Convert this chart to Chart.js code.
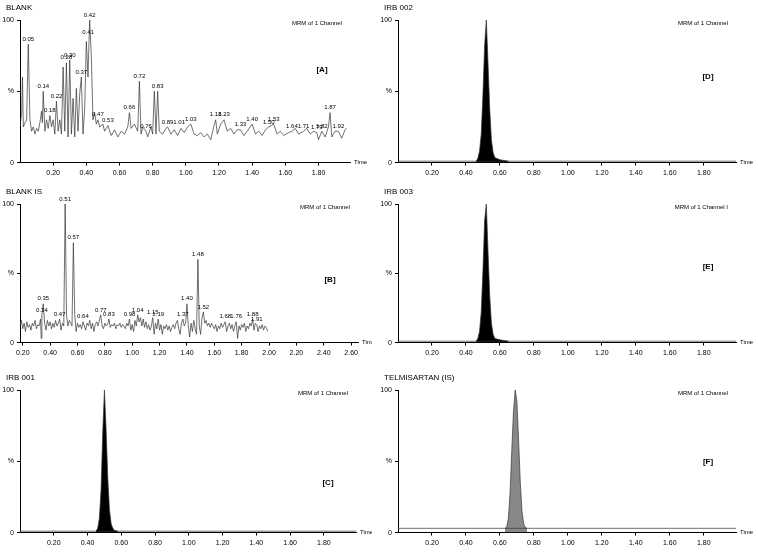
<!DOCTYPE html>
<html><head><meta charset="utf-8">
<script src="https://cdn.jsdelivr.net/npm/chart.js@4"></script>
<style>
body{margin:0;background:#fff;width:758px;height:552px;position:relative;overflow:hidden}
.p{position:absolute}
</style></head><body>
<div class="p" style="left:0;top:0;width:372px;height:180px"><canvas id="cA"></canvas></div>
<div class="p" style="left:0;top:184px;width:372px;height:176px"><canvas id="cB"></canvas></div>
<div class="p" style="left:0;top:370px;width:372px;height:180px"><canvas id="cC"></canvas></div>
<div class="p" style="left:378px;top:0;width:380px;height:180px"><canvas id="cD"></canvas></div>
<div class="p" style="left:378px;top:184px;width:380px;height:176px"><canvas id="cE"></canvas></div>
<div class="p" style="left:378px;top:370px;width:380px;height:180px"><canvas id="cF"></canvas></div>
<script>
// panel A: BLANK trace [time, %]
const blankTrace = [[0.00,25],[0.01,35],[0.015,60],[0.02,25],[0.03,28],[0.04,30],[0.05,83],[0.06,30],[0.07,22],[0.08,25],[0.09,20],[0.10,24],[0.11,22],[0.12,28],[0.13,36],[0.135,28],[0.14,50],[0.15,22],[0.16,30],[0.17,24],[0.18,33],[0.19,25],[0.20,30],[0.21,20],[0.22,43],[0.23,22],[0.24,30],[0.25,20],[0.26,67],[0.27,22],[0.28,70],[0.29,18],[0.30,72],[0.31,20],[0.32,45],[0.33,18],[0.34,52],[0.35,22],[0.36,48],[0.37,60],[0.38,20],[0.39,38],[0.40,85],[0.41,60],[0.42,100],[0.43,75],[0.44,30],[0.45,35],[0.46,27],[0.47,30],[0.48,25],[0.50,27],[0.51,22],[0.53,26],[0.55,19],[0.57,23],[0.59,18],[0.61,22],[0.63,20],[0.65,25],[0.66,35],[0.67,24],[0.69,27],[0.71,22],[0.72,57],[0.73,20],[0.74,25],[0.76,22],[0.77,18],[0.79,25],[0.80,20],[0.81,50],[0.82,20],[0.83,50],[0.84,22],[0.86,20],[0.88,24],[0.89,25],[0.91,20],[0.93,23],[0.95,19],[0.97,24],[0.99,21],[1.01,25],[1.03,27],[1.05,20],[1.07,19],[1.09,21],[1.11,18],[1.13,20],[1.15,16],[1.17,26],[1.18,30],[1.19,20],[1.21,27],[1.23,30],[1.25,22],[1.27,24],[1.29,20],[1.31,23],[1.33,23],[1.35,19],[1.37,22],[1.40,27],[1.42,20],[1.44,22],[1.46,19],[1.48,23],[1.50,25],[1.53,27],[1.55,20],[1.57,22],[1.59,19],[1.62,21],[1.64,22],[1.66,24],[1.68,20],[1.71,22],[1.73,24],[1.75,20],[1.77,22],[1.79,21],[1.80,16],[1.82,22],[1.84,18],[1.86,25],[1.87,35],[1.88,18],[1.90,22],[1.92,22],[1.94,17],[1.96,23],[1.97,24]];
const blankLabels = [[0.05,83,'0.05'],[0.14,50,'0.14'],[0.18,33,'0.18'],[0.22,43,'0.22'],[0.28,70,'0.28'],[0.30,72,'0.30'],[0.37,60,'0.37'],[0.41,88,'0.41'],[0.42,100,'0.42'],[0.47,30,'0.47'],[0.53,26,'0.53'],[0.66,35,'0.66'],[0.72,57,'0.72'],[0.76,22,'0.76'],[0.83,50,'0.83'],[0.89,25,'0.89'],[0.96,25,'1.01'],[1.03,27,'1.03'],[1.18,30,'1.18'],[1.23,30,'1.23'],[1.33,23,'1.33'],[1.40,27,'1.40'],[1.50,25,'1.50'],[1.53,27,'1.53'],[1.64,22,'1.64'],[1.71,22,'1.71'],[1.79,21,'1.79'],[1.82,22,'1.82'],[1.87,35,'1.87'],[1.92,22,'1.92']];

// panel B: BLANK IS trace
const blankIsTrace = [[0.18,12],[0.19,16],[0.20,10],[0.21,14],[0.22,8],[0.23,15],[0.24,11],[0.25,13],[0.26,9],[0.27,14],[0.28,12],[0.29,16],[0.30,10],[0.31,13],[0.32,12],[0.33,17],[0.335,3],[0.34,20],[0.35,28],[0.36,14],[0.37,9],[0.38,16],[0.39,12],[0.40,15],[0.41,10],[0.42,14],[0.43,11],[0.44,16],[0.45,12],[0.46,14],[0.47,17],[0.48,9],[0.49,14],[0.50,12],[0.51,100],[0.52,20],[0.53,12],[0.54,16],[0.55,14],[0.56,12],[0.57,72],[0.58,20],[0.59,8],[0.60,14],[0.61,11],[0.62,13],[0.63,10],[0.64,15],[0.65,12],[0.66,9],[0.67,14],[0.68,12],[0.69,16],[0.70,10],[0.71,14],[0.72,8],[0.73,13],[0.74,15],[0.75,12],[0.76,16],[0.77,20],[0.78,12],[0.79,10],[0.80,14],[0.81,12],[0.82,13],[0.83,17],[0.84,11],[0.85,13],[0.86,12],[0.87,14],[0.88,10],[0.89,13],[0.90,12],[0.91,14],[0.92,11],[0.93,13],[0.94,12],[0.95,10],[0.96,14],[0.97,12],[0.98,17],[0.99,9],[1.00,13],[1.01,8],[1.02,16],[1.03,12],[1.04,20],[1.05,15],[1.06,18],[1.07,12],[1.08,17],[1.09,11],[1.10,15],[1.11,10],[1.12,13],[1.13,9],[1.14,12],[1.15,18],[1.16,6],[1.17,14],[1.18,10],[1.19,17],[1.20,9],[1.21,13],[1.22,6],[1.23,12],[1.24,10],[1.25,13],[1.26,9],[1.27,12],[1.28,8],[1.29,11],[1.30,13],[1.31,10],[1.32,14],[1.33,16],[1.34,10],[1.35,6],[1.36,14],[1.37,17],[1.38,12],[1.39,14],[1.40,28],[1.41,12],[1.42,4],[1.43,14],[1.44,8],[1.45,16],[1.46,10],[1.47,6],[1.48,60],[1.49,12],[1.50,6],[1.51,18],[1.52,22],[1.53,14],[1.54,16],[1.55,12],[1.56,14],[1.57,11],[1.58,14],[1.59,12],[1.60,10],[1.61,13],[1.62,8],[1.63,12],[1.64,10],[1.65,14],[1.66,11],[1.67,13],[1.68,15],[1.69,8],[1.70,12],[1.71,14],[1.72,10],[1.73,13],[1.74,8],[1.75,12],[1.76,15],[1.77,3],[1.78,12],[1.79,9],[1.80,13],[1.81,11],[1.82,14],[1.83,8],[1.84,12],[1.85,10],[1.86,14],[1.87,12],[1.88,17],[1.89,9],[1.90,14],[1.91,13],[1.92,8],[1.93,12],[1.94,10],[1.95,13],[1.96,9],[1.97,12],[1.98,11],[1.99,8]];
const blankIsLabels = [[0.34,20,'0.34'],[0.35,28,'0.35'],[0.47,17,'0.47'],[0.51,100,'0.51'],[0.57,72,'0.57'],[0.64,15,'0.64'],[0.77,20,'0.77'],[0.83,17,'0.83'],[0.98,17,'0.98'],[1.04,20,'1.04'],[1.15,18,'1.15'],[1.19,17,'1.19'],[1.37,17,'1.37'],[1.40,28,'1.40'],[1.48,60,'1.48'],[1.52,22,'1.52'],[1.68,15,'1.68'],[1.76,15,'1.76'],[1.88,17,'1.88'],[1.91,13,'1.91']];

// peak shapes for C-F
const peakIrb001 = [[0.45,1],[0.46,3],[0.47,10],[0.48,30],[0.49,70],[0.50,100],[0.51,72],[0.52,38],[0.53,16],[0.54,6],[0.55,3],[0.56,1.5],[0.58,1]];
const peakIrb002 = [[0.46,1],[0.47,3],[0.48,8],[0.49,20],[0.50,48],[0.51,82],[0.52,100],[0.53,70],[0.54,38],[0.55,16],[0.56,7],[0.57,3.5],[0.60,2],[0.65,1]];
const peakIrb003 = [[0.46,1],[0.47,3],[0.48,8],[0.49,22],[0.50,52],[0.51,88],[0.52,100],[0.53,66],[0.54,34],[0.55,14],[0.56,6],[0.57,3],[0.60,2],[0.65,1]];
const peakTelmi = [[0.63,3],[0.64,4],[0.65,10],[0.66,28],[0.67,58],[0.68,85],[0.69,100],[0.70,92],[0.71,65],[0.72,35],[0.73,15],[0.74,6],[0.75,3.5],[0.76,3]];
const flatBase = [[0.00,1],[0.40,1],[0.80,1],[1.20,1],[1.60,1],[2.00,1]];
const telmiBase = [[0.00,3],[2.00,3]];

// tick labels
const ticksAF = [0.20,0.40,0.60,0.80,1.00,1.20,1.40,1.60,1.80];
const ticksB = [0.20,0.40,0.60,0.80,1.00,1.20,1.40,1.60,1.80,2.00,2.20,2.40,2.60];

const FONT = '"Liberation Sans", Arial, sans-serif';

const decor = {
  id: 'decor',
  afterDraw(chart, args, o) {
    const c = chart.ctx, a = chart.chartArea, x = chart.scales.x, y = chart.scales.y;
    c.save();
    c.fillStyle = '#000';
    c.font = '8px ' + FONT;
    c.textAlign = 'left'; c.textBaseline = 'top';
    c.fillText(o.title, a.left - 14, 4);
    c.font = '6px ' + FONT;
    c.textAlign = 'right';
    c.fillText(o.mrm, a.right - 8, 20);
    c.font = 'bold 8px ' + FONT;
    c.textAlign = 'center'; c.textBaseline = 'middle';
    c.fillText(o.tag, a.right - 28, y.getPixelForValue(o.tagY));
    c.font = '6px ' + FONT;
    c.textAlign = 'left';
    c.fillText('Time', a.right + 4, a.bottom);
    c.textAlign = 'center'; c.textBaseline = 'bottom';
    (o.labels || []).forEach(l => {
      c.fillText(l[2], x.getPixelForValue(l[0]), y.getPixelForValue(l[1]) - 2);
    });
    c.restore();
  }
};

function makePanel(id, opts) {
  const ds = opts.sets.map(s => ({
    data: s.data.map(p => ({x: p[0], y: p[1]})),
    borderColor: '#333', borderWidth: 0.7, pointRadius: 0, tension: 0,
    fill: s.fill ? 'origin' : false, backgroundColor: s.fill || 'transparent'
  }));
  new Chart(document.getElementById(id), {
    type: 'line',
    data: {datasets: ds},
    plugins: [decor],
    options: {
      responsive: true, maintainAspectRatio: false, animation: false,
      layout: {padding: {top: 20, right: opts.padRight, left: 0, bottom: 0}},
      plugins: {legend: {display: false}, tooltip: {enabled: false}, decor: opts.decor},
      scales: {
        x: {
          type: 'linear', min: opts.xmin, max: opts.xmax,
          afterBuildTicks: s => { s.ticks = opts.ticks.map(v => ({value: v})); },
          grid: {drawOnChartArea: false, color: '#000', tickLength: 3},
          border: {color: '#000'},
          ticks: {maxRotation: 0, autoSkip: false, font: {size: 7, family: FONT}, color: '#000',
            callback: v => v.toFixed(2)}
        },
        y: {
          min: 0, max: 100,
          afterFit: s => { s.width = 20; },
          grid: {drawOnChartArea: false, color: '#000', tickLength: 3},
          border: {color: '#000'},
          ticks: {stepSize: 50, font: {size: 7, family: FONT}, color: '#000',
            callback: v => v === 50 ? '%' : String(v)}
        }
      }
    }
  });
}

makePanel('cA', {xmin: 0, xmax: 1.99, ticks: ticksAF, padRight: 22,
  sets: [{data: blankTrace}],
  decor: {title: 'BLANK', mrm: 'MRM of 1 Channel', tag: '[A]', tagY: 65, labels: blankLabels}});
makePanel('cB', {xmin: 0.18, xmax: 2.65, ticks: ticksB, padRight: 14,
  sets: [{data: blankIsTrace}],
  decor: {title: 'BLANK IS', mrm: 'MRM of 1 Channel', tag: '[B]', tagY: 45, labels: blankIsLabels}});
makePanel('cC', {xmin: 0, xmax: 1.99, ticks: ticksAF, padRight: 16,
  sets: [{data: flatBase}, {data: peakIrb001, fill: '#000'}],
  decor: {title: 'IRB 001', mrm: 'MRM of 1 Channel', tag: '[C]', tagY: 35}});
makePanel('cD', {xmin: 0, xmax: 1.99, ticks: ticksAF, padRight: 22,
  sets: [{data: flatBase}, {data: peakIrb002, fill: '#000'}],
  decor: {title: 'IRB 002', mrm: 'MRM of 1 Channel', tag: '[D]', tagY: 60}});
makePanel('cE', {xmin: 0, xmax: 1.99, ticks: ticksAF, padRight: 22,
  sets: [{data: flatBase}, {data: peakIrb003, fill: '#000'}],
  decor: {title: 'IRB 003', mrm: 'MRM of 1 Channel I', tag: '[E]', tagY: 55}});
makePanel('cF', {xmin: 0, xmax: 1.99, ticks: ticksAF, padRight: 22,
  sets: [{data: telmiBase}, {data: peakTelmi, fill: '#888'}],
  decor: {title: 'TELMISARTAN (IS)', mrm: 'MRM of 1 Channel', tag: '[F]', tagY: 50}});
</script>
</body></html>
